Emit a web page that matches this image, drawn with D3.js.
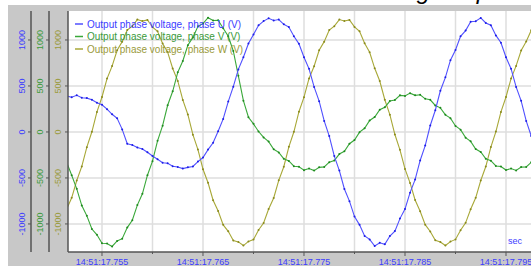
<!DOCTYPE html>
<html><head><meta charset="utf-8">
<script src="https://cdn.jsdelivr.net/npm/d3@7"></script>
<style>
body{margin:0;background:#fff;}
svg{display:block;font-family:"Liberation Sans",Arial,sans-serif;}
</style></head>
<body><svg id="c" width="531" height="266"></svg>
<script>
// time in ms after 14:51:17.750
const timeMs = [1.5,2,2.5,3,3.5,4,4.5,5,5.5,6,6.5,7,7.5,8,8.5,9,9.5,10,10.5,11,11.5,12,12.5,13,13.5,14,14.5,15,15.5,16,16.5,17,17.5,18,18.5,19,19.5,20,20.5,21,21.5,22,22.5,23,23.5,24,24.5,25,25.5,26,26.5,27,27.5,28,28.5,29,29.5,30,30.5,31,31.5,32,32.5,33,33.5,34,34.5,35,35.5,36,36.5,37,37.5,38,38.5,39,39.5,40,40.5,41,41.5,42,42.5,43,43.5,44,44.5,45,45.5,46,46.5,47,47.5];
const phaseU = [390,378,398,372,368,350,318,296,248,192,148,28,-128,-142,-168,-185,-220,-262,-296,-335,-340,-372,-380,-398,-385,-375,-322,-278,-192,-118,8,142,330,492,680,812,962,1060,1160,1205,1236,1212,1222,1170,1140,1040,958,812,686,490,335,120,-45,-262,-420,-620,-752,-920,-1010,-1130,-1168,-1240,-1205,-1222,-1132,-1078,-942,-838,-660,-518,-310,-148,70,236,448,594,780,892,1040,1102,1198,1204,1240,1185,1160,1050,970,812,688,490,338,120,-45];
const phaseV = [-330,-470,-618,-800,-912,-1055,-1118,-1210,-1212,-1245,-1185,-1160,-1040,-960,-795,-672,-470,-318,-96,68,290,442,648,772,942,1028,1148,1178,1242,1212,1215,1128,1040,880,610,340,160,88,5,-60,-105,-188,-222,-292,-315,-372,-378,-415,-398,-420,-385,-380,-328,-310,-240,-210,-128,-88,-2,40,125,162,242,268,336,348,398,392,422,398,405,360,350,288,262,186,150,65,25,-62,-102,-186,-218,-292,-312,-370,-375,-414,-398,-418,-382,-380,-330];
const phaseW = [-840,-716,-528,-375,-165,2,218,380,580,716,888,982,1108,1150,1222,1205,1218,1140,1095,962,868,690,555,348,190,-30,-192,-405,-552,-742,-860,-1010,-1080,-1180,-1195,-1235,-1190,-1170,-1066,-990,-838,-718,-526,-378,-162,2,220,378,582,715,888,982,1108,1150,1222,1206,1218,1142,1094,964,866,692,554,350,188,-28,-194,-402,-554,-740,-862,-1008,-1082,-1178,-1196,-1234,-1192,-1168,-1068,-988,-840,-716,-528,-376,-164,4,218,380,580,718,886,984,1106];
const seriesNames = ["Output phase voltage, phase U (V)","Output phase voltage, phase V (V)","Output phase voltage, phase W (V)"];
const lineColors = ["#5050ff","#3aa83a","#a8a838"];
const dotColors = ["#1e1ee6","#1f8a1f","#8a8a1e"];
const labelColors = ["#3c3cff","#3a9a3a","#9a9a3a"];
const yTicks = [-1000,-500,0,500,1000];
const xGridTicks = [5,10,15,20,25,30,35,40,45];
const xLabelTicks = [5,15,25,35,45];
const xTickLabels = ["14:51:17.755","14:51:17.765","14:51:17.775","14:51:17.785","14:51:17.795"];
const titleText = "Voltage of phases";
const unitText = "sec";

const svg = d3.select("#c");
const L = 68, R = 531, T = 11, B = 252;
const x = d3.scaleLinear().domain([1.634, 47.475]).range([L, R]);
const y = d3.scaleLinear().domain([-1305, 1315]).range([B, T]);

// title (mostly cut off at top, as in the reference)
svg.append("text").attr("x", 363).attr("y", -1.5).attr("font-size", 24).attr("font-style", "italic").attr("fill", "#000").text(titleText);

svg.append("rect").attr("x", 8).attr("y", 5).attr("width", 523).attr("height", 261).attr("fill", "#c8c8c8");
svg.append("rect").attr("x", L).attr("y", T).attr("width", R - L).attr("height", B - T).attr("fill", "#fff");

// grid
const grid = svg.append("g").attr("stroke", "#dedede").attr("stroke-width", 1.5);
xGridTicks.forEach(v => grid.append("line").attr("x1", x(v)).attr("x2", x(v)).attr("y1", T).attr("y2", B));
yTicks.forEach(v => grid.append("line").attr("x1", L).attr("x2", R).attr("y1", y(v)).attr("y2", y(v)));

// series
svg.append("clipPath").attr("id", "clip").append("rect").attr("x", L).attr("y", T).attr("width", R - L).attr("height", B - T);
const plot = svg.append("g").attr("clip-path", "url(#clip)");
const allSeries = [phaseU, phaseV, phaseW];
const line = d3.line().x((d, i) => x(timeMs[i])).y(d => y(d));
[2, 1, 0].forEach(k => {
  plot.append("path").datum(allSeries[k]).attr("d", line).attr("fill", "none").attr("stroke", lineColors[k]).attr("stroke-width", 1.1);
  plot.append("g").selectAll("circle").data(allSeries[k]).join("circle")
    .attr("cx", (d, i) => x(timeMs[i])).attr("cy", d => y(d)).attr("r", 1).attr("fill", dotColors[k]);
});

// legend
seriesNames.forEach((name, k) => {
  const ly = 24 + k * 12.5;
  svg.append("line").attr("x1", 75).attr("x2", 83).attr("y1", ly).attr("y2", ly).attr("stroke", lineColors[k]).attr("stroke-width", 1.5);
  svg.append("text").attr("x", 87).attr("y", ly + 3.5).attr("font-size", 10).attr("fill", labelColors[k]).text(name);
});

// y axes
const axisX = [31, 49, 68];
const labelX = [24.5, 42.5, 60.5];
axisX.forEach((ax, k) => {
  const g = svg.append("g");
  g.append("line").attr("x1", ax).attr("x2", ax).attr("y1", T).attr("y2", B).attr("stroke", "#555").attr("stroke-width", 1.5);
  yTicks.forEach(v => {
    g.append("line").attr("x1", ax - 3).attr("x2", ax).attr("y1", y(v)).attr("y2", y(v)).attr("stroke", "#555");
    g.append("text").attr("transform", `translate(${labelX[k]},${y(v)}) rotate(-90)`)
      .attr("text-anchor", "middle").attr("font-size", 9).attr("fill", labelColors[k]).text(v);
  });
});

// x axis
svg.append("line").attr("x1", L).attr("x2", R).attr("y1", B).attr("y2", B).attr("stroke", "#555").attr("stroke-width", 1.5);
xGridTicks.forEach(v => {
  const major = xLabelTicks.includes(v);
  svg.append("line").attr("x1", x(v)).attr("x2", x(v)).attr("y1", B).attr("y2", B + (major ? 4 : 2)).attr("stroke", "#555");
});
xLabelTicks.forEach((v, i) => {
  svg.append("text").attr("x", x(v)).attr("y", 264.5).attr("text-anchor", "middle").attr("font-size", 9).attr("fill", labelColors[0]).text(xTickLabels[i]);
});
svg.append("text").attr("x", 522).attr("y", 244).attr("text-anchor", "end").attr("font-size", 9).attr("fill", labelColors[0]).text(unitText);
</script>
</body></html>
